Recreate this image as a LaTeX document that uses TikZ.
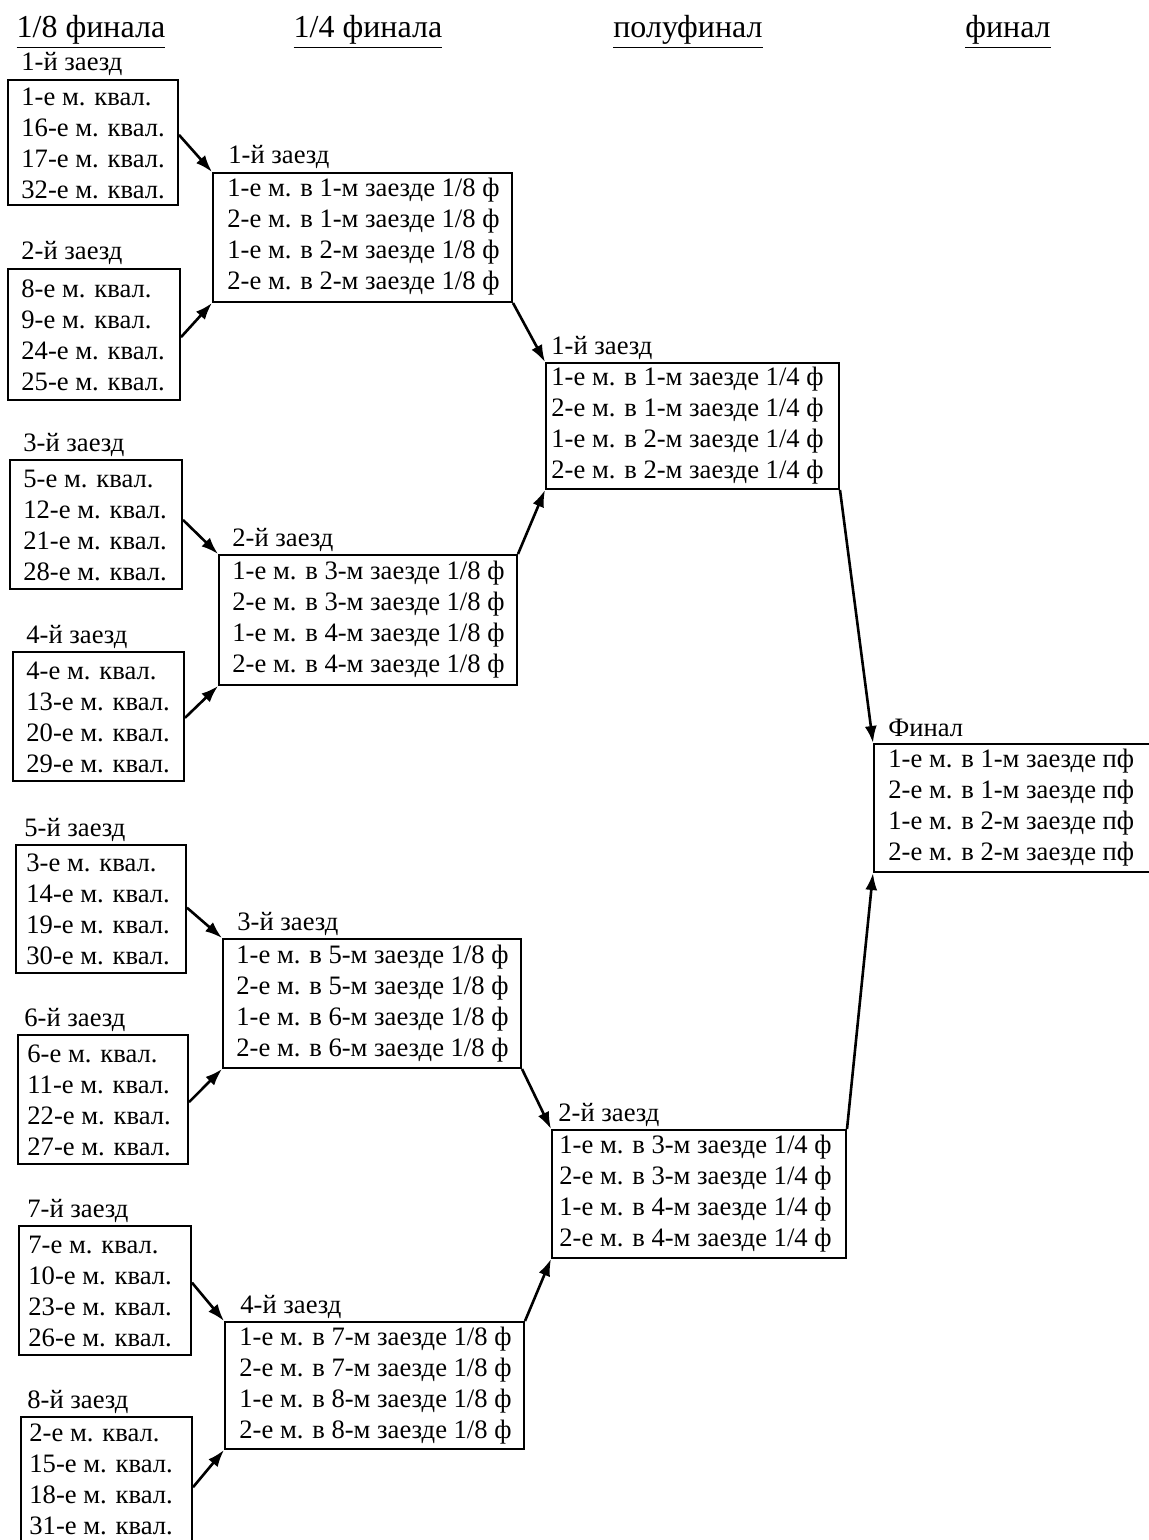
\documentclass[tikz,border=0pt]{standalone}
\usepackage{fontspec}
\setmainfont{Liberation Serif}
\usetikzlibrary{calc,fit,arrows.meta}
\begin{document}
\begin{tikzpicture}[x=0.5pt,y=-0.5pt,
  rbox/.style={draw, line width=1pt, inner sep=0pt},
  lines/.style={anchor=west, align=left, inner sep=0pt, font=\fontsize{13.3}{15.5}\selectfont},
  lbl/.style={anchor=base west, inner sep=0pt, font=\fontsize{13.3}{15.5}\selectfont},
  hdr/.style={anchor=base, inner sep=0pt, font=\fontsize{16}{18}\selectfont},
  arr/.style={line width=1.3pt, -{Latex[length=8.5pt,width=6pt]}}]
\useasboundingbox (0,0) rectangle (1149,1540);
% headers
\node[hdr] (h1) at (91,38) {\underline{1/8 финала}};
\node[hdr] (h2) at (368,38) {\underline{1/4 финала}};
\node[hdr] (h3) at (688,38) {\underline{полуфинал}};
\node[hdr] (h4) at (1008,38) {\underline{финал}};
% column 1
\node[rbox, fit={(8,80) (178,205)}] (B1) {};
\node[lbl] (B1l) at (21,71) {1-й заезд};
\node[lines] (B1t) at (21,143) {1-е м. квал.\\16-е м. квал.\\17-е м. квал.\\32-е м. квал.};
\node[rbox, fit={(8,269) (180,400)}] (B2) {};
\node[lbl] (B2l) at (21,260) {2-й заезд};
\node[lines] (B2t) at (21,335) {8-е м. квал.\\9-е м. квал.\\24-е м. квал.\\25-е м. квал.};
\node[rbox, fit={(10,460) (182,589)}] (B3) {};
\node[lbl] (B3l) at (23,451) {3-й заезд};
\node[lines] (B3t) at (23,525) {5-е м. квал.\\12-е м. квал.\\21-е м. квал.\\28-е м. квал.};
\node[rbox, fit={(13,652) (184,781)}] (B4) {};
\node[lbl] (B4l) at (26,643) {4-й заезд};
\node[lines] (B4t) at (26,717) {4-е м. квал.\\13-е м. квал.\\20-е м. квал.\\29-е м. квал.};
\node[rbox, fit={(16,845) (186,973)}] (B5) {};
\node[lbl] (B5l) at (24,836) {5-й заезд};
\node[lines] (B5t) at (26,909) {3-е м. квал.\\14-е м. квал.\\19-е м. квал.\\30-е м. квал.};
\node[rbox, fit={(18,1035) (188,1164)}] (B6) {};
\node[lbl] (B6l) at (24,1026) {6-й заезд};
\node[lines] (B6t) at (27,1100) {6-е м. квал.\\11-е м. квал.\\22-е м. квал.\\27-е м. квал.};
\node[rbox, fit={(19,1226) (191,1355)}] (B7) {};
\node[lbl] (B7l) at (27,1217) {7-й заезд};
\node[lines] (B7t) at (28,1291) {7-е м. квал.\\10-е м. квал.\\23-е м. квал.\\26-е м. квал.};
\node[rbox, fit={(21,1417) (192,1552)}] (B8) {};
\node[lbl] (B8l) at (27,1408) {8-й заезд};
\node[lines] (B8t) at (29,1479) {2-е м. квал.\\15-е м. квал.\\18-е м. квал.\\31-е м. квал.};
% column 2
\node[rbox, fit={(213,173) (512,302)}] (Q1) {};
\node[lbl] (Q1l) at (228,164) {1-й заезд};
\node[lines] (Q1t) at (227,237) {1-е м. в 1-м заезде 1/8 ф\\2-е м. в 1-м заезде 1/8 ф\\1-е м. в 2-м заезде 1/8 ф\\2-е м. в 2-м заезде 1/8 ф};
\node[rbox, fit={(219,555) (517,685)}] (Q2) {};
\node[lbl] (Q2l) at (232,546) {2-й заезд};
\node[lines] (Q2t) at (232,620) {1-е м. в 3-м заезде 1/8 ф\\2-е м. в 3-м заезде 1/8 ф\\1-е м. в 4-м заезде 1/8 ф\\2-е м. в 4-м заезде 1/8 ф};
\node[rbox, fit={(223,939) (521,1068)}] (Q3) {};
\node[lbl] (Q3l) at (237,930) {3-й заезд};
\node[lines] (Q3t) at (236,1004) {1-е м. в 5-м заезде 1/8 ф\\2-е м. в 5-м заезде 1/8 ф\\1-е м. в 6-м заезде 1/8 ф\\2-е м. в 6-м заезде 1/8 ф};
\node[rbox, fit={(225,1322) (524,1449)}] (Q4) {};
\node[lbl] (Q4l) at (240,1313) {4-й заезд};
\node[lines] (Q4t) at (239,1386) {1-е м. в 7-м заезде 1/8 ф\\2-е м. в 7-м заезде 1/8 ф\\1-е м. в 8-м заезде 1/8 ф\\2-е м. в 8-м заезде 1/8 ф};
% column 3
\node[rbox, fit={(546,363) (839,489)}] (S1) {};
\node[lbl] (S1l) at (551,354) {1-й заезд};
\node[lines] (S1t) at (551,426) {1-е м. в 1-м заезде 1/4 ф\\2-е м. в 1-м заезде 1/4 ф\\1-е м. в 2-м заезде 1/4 ф\\2-е м. в 2-м заезде 1/4 ф};
\node[rbox, fit={(552,1130) (846,1258)}] (S2) {};
\node[lbl] (S2l) at (558,1121) {2-й заезд};
\node[lines] (S2t) at (559,1194) {1-е м. в 3-м заезде 1/4 ф\\2-е м. в 3-м заезде 1/4 ф\\1-е м. в 4-м заезде 1/4 ф\\2-е м. в 4-м заезде 1/4 ф};
% final
\node[rbox, fit={(874,744) (1165,872)}] (F) {};
\node[lbl] (Fl) at (888,736) {Финал};
\node[lines] (Ft) at (888,808) {1-е м. в 1-м заезде пф\\2-е м. в 1-м заезде пф\\1-е м. в 2-м заезде пф\\2-е м. в 2-м заезде пф};
% arrows
\draw[arr] ($(B1.north east)!0.44!(B1.south east)$) -- (Q1.north west);
\draw[arr] ($(B2.north east)!0.52!(B2.south east)$) -- (Q1.south west);
\draw[arr] ($(B3.north east)!0.465!(B3.south east)$) -- (Q2.north west);
\draw[arr] ($(B4.north east)!0.51!(B4.south east)$) -- (Q2.south west);
\draw[arr] ($(B5.north east)!0.49!(B5.south east)$) -- (Q3.north west);
\draw[arr] ($(B6.north east)!0.52!(B6.south east)$) -- (Q3.south west);
\draw[arr] ($(B7.north east)!0.44!(B7.south east)$) -- (Q4.north west);
\draw[arr] ($(B8.north east)!0.52!(B8.south east)$) -- (Q4.south west);
\draw[arr] (Q1.south east) -- (S1.north west);
\draw[arr] (Q2.north east) -- (S1.south west);
\draw[arr] (Q3.south east) -- (S2.north west);
\draw[arr] (Q4.north east) -- (S2.south west);
\draw[arr] (S1.south east) -- (F.north west);
\draw[arr] (S2.north east) -- (F.south west);
\end{tikzpicture}
\end{document}
